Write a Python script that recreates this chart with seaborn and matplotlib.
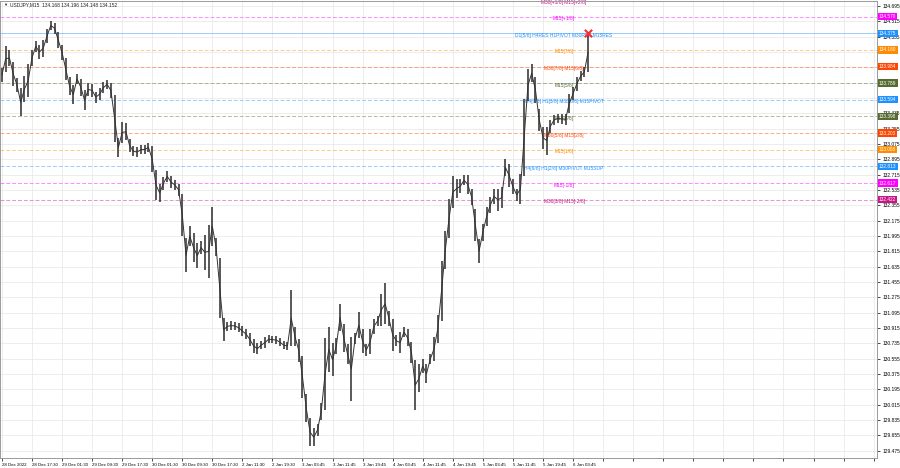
"""
    USDJPY M15 chart with Murrey-style level lines, redrawn with seaborn.
"""

import numpy as np
import pandas as pd
import seaborn as sns
import matplotlib
matplotlib.use("Agg")
import matplotlib.pyplot as plt

# hourly high / low of the M15 candles
bar_high = [133.97, 134.23, 134.18, 134.04, 133.85, 133.73, 133.87, 134.01, 134.18, 134.28,
            134.24, 134.30, 134.42, 134.52, 134.50, 134.39, 134.24, 134.08, 133.86, 133.77,
            133.90, 133.84, 133.71, 133.79, 133.78, 133.69, 133.73, 133.80, 133.83, 133.79,
            133.65, 133.15, 133.33, 133.32, 133.13, 133.05, 133.04, 133.06, 133.06, 133.09,
            133.05, 132.77, 132.61, 132.69, 132.76, 132.70, 132.65, 132.61, 132.49, 131.97,
            132.11, 132.03, 131.91, 131.94, 132.01, 132.13, 132.34, 131.97, 131.74, 131.03,
            130.99, 131.00, 130.99, 130.97, 130.94, 130.90, 130.86, 130.79, 130.74, 130.76,
            130.81, 130.83, 130.82, 130.82, 130.80, 130.76, 130.75, 131.36, 130.93, 130.79,
            130.59, 130.14, 129.86, 129.74, 129.79, 130.04, 130.80, 130.93, 130.74, 130.80,
            131.20, 130.96, 130.73, 130.81, 130.86, 131.10, 130.90, 130.73, 130.90, 131.02,
            131.06, 131.32, 131.44, 131.12, 131.02, 130.83, 130.87, 130.93, 130.90, 130.75,
            130.54, 130.49, 130.55, 130.49, 130.61, 130.81, 131.07, 131.70, 132.05, 132.43,
            132.70, 132.66, 132.66, 132.71, 132.71, 132.55, 132.31, 131.96, 132.14, 132.34,
            132.45, 132.55, 132.55, 132.57, 132.90, 132.84, 132.66, 132.55, 132.72, 133.60,
            133.95, 134.01, 133.86, 133.49, 133.28, 133.28, 133.36, 133.42, 133.43, 133.43,
            133.43, 133.66, 133.74, 133.86, 133.93, 133.98, 134.38]

bar_low = [133.80, 133.92, 133.99, 133.76, 133.69, 133.40, 133.57, 133.63, 133.99, 134.16,
           134.07, 134.10, 134.26, 134.41, 134.37, 134.20, 134.06, 133.83, 133.65, 133.54,
           133.78, 133.64, 133.47, 133.64, 133.63, 133.56, 133.59, 133.67, 133.72, 133.62,
           133.10, 132.92, 133.09, 133.12, 132.98, 132.93, 132.92, 132.96, 132.96, 132.98,
           132.75, 132.42, 132.39, 132.54, 132.63, 132.56, 132.54, 132.47, 132.00, 131.57,
           131.88, 131.69, 131.62, 131.78, 131.60, 131.50, 131.88, 131.76, 131.03, 130.76,
           130.88, 130.89, 130.89, 130.87, 130.82, 130.79, 130.70, 130.62, 130.61, 130.67,
           130.68, 130.74, 130.74, 130.73, 130.70, 130.67, 130.66, 130.70, 130.70, 130.52,
           130.09, 129.81, 129.53, 129.53, 129.65, 129.84, 129.95, 130.40, 130.35, 130.61,
           130.88, 130.63, 130.49, 130.06, 130.73, 130.80, 130.62, 130.59, 130.61, 130.85,
           130.94, 130.94, 130.96, 130.94, 130.65, 130.70, 130.62, 130.81, 130.70, 130.51,
           129.95, 130.16, 130.39, 130.27, 130.49, 130.53, 130.74, 131.00, 131.61, 131.97,
           132.32, 132.44, 132.50, 132.59, 132.49, 132.36, 131.94, 131.68, 131.94, 132.11,
           132.27, 132.37, 132.29, 132.32, 132.70, 132.57, 132.49, 132.41, 132.37, 132.70,
           133.58, 133.80, 133.56, 133.23, 133.02, 132.95, 133.21, 133.30, 133.32, 133.31,
           133.30, 133.44, 133.59, 133.70, 133.81, 133.86, 133.92]

date_labels = ["28 Dec 2022", "28 Dec 17:30", "29 Dec 01:30", "29 Dec 09:30", "29 Dec 17:30",
               "30 Dec 01:30", "30 Dec 09:30", "30 Dec 17:30", "2 Jan 11:30", "2 Jan 19:30",
               "3 Jan 03:45", "3 Jan 11:45", "3 Jan 19:45", "4 Jan 03:45", "4 Jan 11:45",
               "4 Jan 19:45", "5 Jan 03:45", "5 Jan 11:45", "5 Jan 19:45", "6 Jan 03:45"]

level_prices = [134.766, 134.570, 134.375, 134.180, 133.984, 133.789, 133.594,
                133.398, 133.203, 133.008, 132.813, 132.617, 132.422]
level_names = ["M30[+1/8] M15[+2/8]", "M15[+1/8]", "D1[5/8] H4RES H1PIVOT M30RES M15RES",
               "M15[7/8]", "M30[7/8] M15[6/8]", "M15[5/8]", "H4[7/8] H1[3/8] M30[6/8] M15PIVOT",
               "M15[3/8]", "M30[5/8] M15[2/8]", "M15[1/8]", "H4[6/8] H1[2/8] M30PIVOT M15SUP",
               "M15[-1/8]", "M30[3/8] M15[-2/8]"]
level_colors = ["#c71585", "#ff00ff", "#1e90ff", "#ff8c00", "#ff4500", "#556b2f", "#1e90ff",
                "#556b2f", "#ff4500", "#ff8c00", "#1e90ff", "#ff00ff", "#c71585"]

header = "USDJPY,M15  134.168 134.196 134.148 134.152"

price_ticks = np.round(np.arange(129.475, 134.70, 0.18), 3)

X_MIN, X_MAX = -0.507, 232.9
Y_MIN, Y_MAX = 129.391, 134.753
LABEL_X = 149.6
FS = 3.5


def draw_levels(ax):
    """
        Dashed level lines, their names in the chart and price tags on the axis.
    """
    for price, name, color in zip(level_prices, level_names, level_colors):
        style = "-" if "D1" in name else (0, (4, 2))
        ax.axhline(price, color=color, lw=0.7, ls=style, alpha=0.45, zorder=1)
        ax.text(LABEL_X, price - 0.025, name, color=color, fontsize=FS,
                ha="center", va="center", zorder=2)
        if price < Y_MAX:
            ax.text(1.0 + 2 / 877, price, f"{price:.3f}", transform=ax.get_yaxis_transform(),
                    ha="left", va="center", fontsize=FS - 0.1, color="white", clip_on=False,
                    bbox=dict(boxstyle="square,pad=0.25", fc=color, ec="none"), zorder=6)


def tick_text(price):
    """
        Price label for the right axis, left out where a level tag covers it.
    """
    covered = any(abs(price - lvl) < 0.03 for lvl in level_prices)
    return "" if covered else f"{price:.3f}"


sns.set_theme(style="white")
plt.rcParams["font.family"] = ["Liberation Sans", "DejaVu Sans"]

fig = plt.figure(figsize=(9, 4.68), dpi=100)
ax = fig.add_axes([0.0, 10 / 468, 877 / 900, 457 / 468])

bars = pd.DataFrame({"bar": np.arange(len(bar_high)), "high": bar_high, "low": bar_low})
bars["mid"] = (bars["high"] + bars["low"]) / 2

ax.vlines(bars["bar"], bars["low"], bars["high"], color="#333333", lw=1.15, zorder=3)
sns.lineplot(data=bars, x="bar", y="mid", ax=ax, color="#333333", lw=0.7, zorder=3)

draw_levels(ax)

last = bars.iloc[-1]
ax.scatter([last["bar"]], [last["high"]], marker="x", s=28, color="#ff2a2a",
           linewidths=1.5, zorder=7)

# axes, ticks and grid in the MT4 look
ax.set_xlim(X_MIN, X_MAX)
ax.set_ylim(Y_MIN, Y_MAX)
grid_x = np.arange(0, X_MAX, 8)
ax.set_xticks(grid_x)
ax.set_xticklabels(date_labels + [""] * (len(grid_x) - len(date_labels)), fontsize=FS - 0.3)
for lbl in ax.get_xticklabels():
    lbl.set_ha("left")
ax.yaxis.tick_right()
ax.set_yticks(price_ticks)
ax.set_yticklabels([tick_text(p) for p in price_ticks], fontsize=FS)
ax.tick_params(axis="x", bottom=True, length=2, width=0.5, pad=1.5, colors="black")
ax.tick_params(axis="y", right=True, length=2, width=0.5, pad=2, colors="black")
ax.grid(True, color="#e6e6e6", lw=0.5)
ax.set_xlabel("")
ax.set_ylabel("")
for spine in ax.spines.values():
    spine.set_color("#9a9a9a")
    spine.set_linewidth(0.7)

fig.text(3 / 900, 1 - 5 / 468, "\u25bc", fontsize=FS - 0.5, va="center")
fig.text(10 / 900, 1 - 5 / 468, header, fontsize=FS, va="center")

fig.savefig("out.png", dpi=100)
